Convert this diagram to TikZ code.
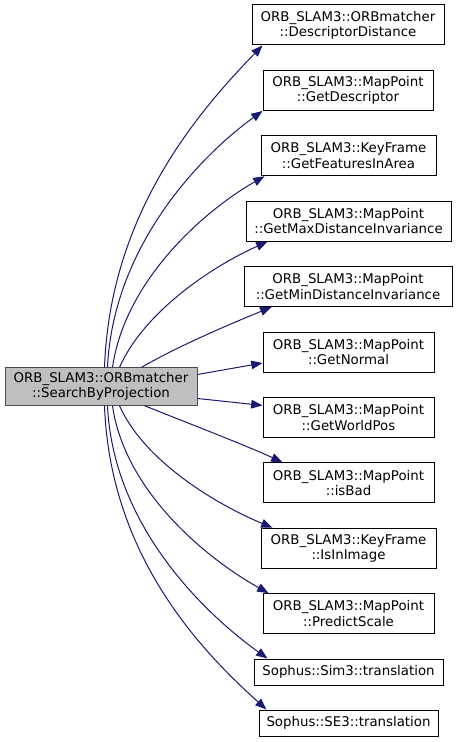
\documentclass[tikz,border=0pt]{standalone}
\usepackage{fontspec}
\setmainfont{DejaVu Sans}
\usetikzlibrary{arrows.meta}
\definecolor{edgeblue}{HTML}{191970}
\begin{document}
\begin{tikzpicture}[x=0.75pt,y=-0.75pt,
  box/.style={draw=black,line width=0.75pt,fill=white,inner sep=0pt,align=center,
    font=\fontsize{10pt}{11.5pt}\selectfont},
  mainbox/.style={box,fill=black!25,draw=black!70},
  edge/.style={draw=edgeblue,line width=0.75pt,-{Triangle[length=8.5pt,width=6.5pt]},fill=none},
  ]
\useasboundingbox (0,0) rectangle (457,742);
\node[mainbox,minimum width=144pt,minimum height=28pt] (m) at (101,386.5) {ORB\_SLAM3::ORBmatcher\\::SearchByProjection};
\node[box,minimum width=144pt,minimum height=30pt] (n1) at (348,25) {ORB\_SLAM3::ORBmatcher\\::DescriptorDistance};
\node[box,minimum width=127.5pt,minimum height=30pt] (n2) at (348,90.4) {ORB\_SLAM3::MapPoint\\::GetDescriptor};
\node[box,minimum width=131.25pt,minimum height=30pt] (n3) at (348.5,155.8) {ORB\_SLAM3::KeyFrame\\::GetFeaturesInArea};
\node[box,minimum width=153.75pt,minimum height=30pt] (n4) at (348.5,221.2) {ORB\_SLAM3::MapPoint\\::GetMaxDistanceInvariance};
\node[box,minimum width=156pt,minimum height=30pt] (n5) at (348,286.6) {ORB\_SLAM3::MapPoint\\::GetMinDistanceInvariance};
\node[box,minimum width=128.25pt,minimum height=30pt] (n6) at (348.5,352) {ORB\_SLAM3::MapPoint\\::GetNormal};
\node[box,minimum width=128.25pt,minimum height=30pt] (n7) at (348.5,417.4) {ORB\_SLAM3::MapPoint\\::GetWorldPos};
\node[box,minimum width=128.25pt,minimum height=30pt] (n8) at (348.5,482.8) {ORB\_SLAM3::MapPoint\\::isBad};
\node[box,minimum width=131.25pt,minimum height=30pt] (n9) at (348.5,548.2) {ORB\_SLAM3::KeyFrame\\::IsInImage};
\node[box,minimum width=128.25pt,minimum height=30pt] (n10) at (348.5,613.6) {ORB\_SLAM3::MapPoint\\::PredictScale};
\node[box,minimum width=141.75pt,minimum height=19.5pt] (n11) at (348.5,672) {Sophus::Sim3::translation};
\node[box,minimum width=134.25pt,minimum height=19.5pt] (n12) at (348.5,723) {Sophus::SE3::translation};
% upper edges
\draw[edge] ([xshift=75pt]m.north west) .. controls (110,220) and (190,120) .. ([xshift=8.25pt]n1.south west);
\draw[edge] ([xshift=77.25pt]m.north west) .. controls (113,250) and (195,160) .. ([xshift=0pt]n2.south west);
\draw[edge] ([xshift=81pt]m.north west) .. controls (125,280) and (205,210) .. ([xshift=3pt]n3.south west);
\draw[edge] ([xshift=86.25pt]m.north west) .. controls (145,310) and (215,265) .. ([xshift=16.5pt]n4.south west);
\draw[edge] ([xshift=102.75pt]m.north west) .. controls (180,345) and (235,322) .. ([xshift=21pt]n5.south west);
% middle edges
\draw[edge] ([yshift=9pt]m.east) -- ([yshift=-8.25pt]n6.west);
\draw[edge] ([yshift=-9pt]m.east) -- ([yshift=9pt]n7.west);
% lower edges
\draw[edge] ([xshift=105pt]m.south west) .. controls (185,422) and (245,445) .. ([xshift=15pt]n8.north west);
\draw[edge] ([xshift=86.25pt]m.south west) .. controls (145,463) and (220,506) .. ([xshift=9pt]n9.north west);
\draw[edge] ([xshift=81pt]m.south west) .. controls (125,493) and (209,560) .. ([xshift=4.5pt]n10.north west);
\draw[edge] ([xshift=77.25pt]m.south west) .. controls (113,523) and (200,610) .. ([xshift=10.5pt]n11.north west);
\draw[edge] ([xshift=75pt]m.south west) .. controls (110,553) and (197,647) .. ([xshift=6pt]n12.north west);
\end{tikzpicture}
\end{document}
